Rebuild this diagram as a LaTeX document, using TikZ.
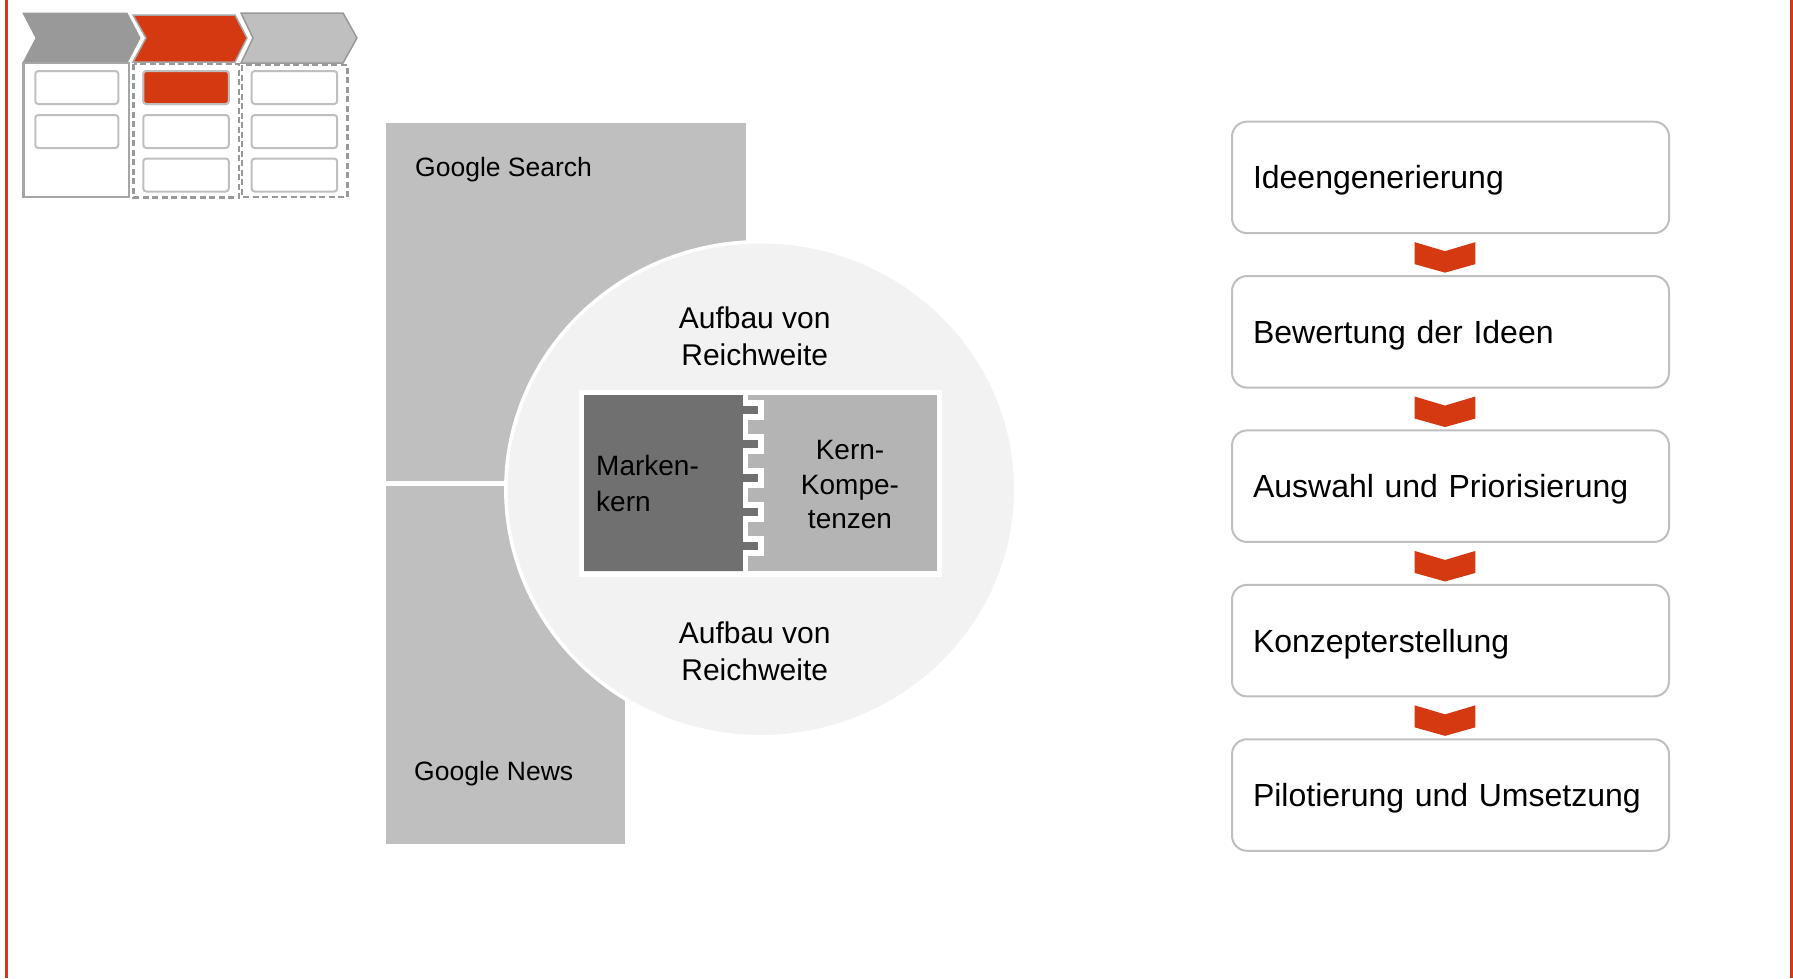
\documentclass[tikz,border=0pt]{standalone}
\usepackage{fontspec}
\setmainfont{Liberation Sans}
\usetikzlibrary{shapes.geometric,calc}
\definecolor{accent}{RGB}{213,57,17}
\definecolor{panelgray}{HTML}{BFBFBF}
\definecolor{icongray}{HTML}{999999}
\definecolor{iconline}{HTML}{A6A6A6}
\definecolor{circfill}{HTML}{F2F2F2}
\definecolor{darkpiece}{HTML}{707070}
\definecolor{lightpiece}{HTML}{B4B4B4}
\begin{document}
\begin{tikzpicture}
	[x=1pt,y=-1pt,
	gbox/.style={fill=panelgray,inner sep=0pt,anchor=north west},
	glabel/.style={anchor=base west,inner sep=0pt,font=\fontsize{26.5}{32}\selectfont},
	ringtext/.style={anchor=north,inner sep=0pt,align=center,font=\fontsize{30}{37}\selectfont},
	slot/.style={draw=panelgray,line width=2pt,rounded corners=3pt,fill=white},
	dashbox/.style={draw=icongray,line width=2.5pt,dash pattern=on 6pt off 3.5pt},
	procbox/.style={draw=panelgray,fill=white,line width=2pt,rounded corners=15pt,
		minimum width=437pt,minimum height=111.5pt,inner xsep=21pt,inner ysep=0pt,
		text width=395pt,align=left,text height=23pt,text depth=0pt,
		font=\fontsize{32}{38}\selectfont}]
	\useasboundingbox (0,0) rectangle (1793,978);
	% side rules
	\fill[accent] (5,0) rectangle (7.7,978);
	\fill[accent] (1789.5,0) rectangle (1792.5,978);
	% phase icon
	\filldraw[fill=icongray,draw=icongray,line width=1pt]
		(23,13) -- (127,13) -- (140,38) -- (127,63) -- (23,63) -- (36,38) -- cycle;
	\filldraw[fill=accent,draw=iconline,line width=1.5pt]
		(133,15) -- (235,15) -- (247,38) -- (235,62) -- (133,62) -- (146,38) -- cycle;
	\filldraw[fill=panelgray,draw=icongray,line width=1.5pt]
		(241,13) -- (343,13) -- (357,38) -- (343,63) -- (241,63) -- (253,38) -- cycle;
	\draw[iconline,line width=2.5pt] (23.5,63) rectangle (129,197);
	\draw[dashbox] (133.5,64) rectangle (239,197.5);
	\draw[dashbox] (242,65) rectangle (347.5,197);
	\foreach \ya in {71,115}
		\draw[slot] (35.3,\ya) rectangle ++(83,33);
	\foreach \xa in {143.3,251.7}
		\foreach \ya in {71,115,158.5}
			\draw[slot] (\xa,\ya) rectangle ++(85.5,33);
	\filldraw[slot,fill=accent] (143.3,71) rectangle ++(85.5,33);
	% channels
	\node[gbox,minimum width=359.7pt,minimum height=358pt] (search) at (386,122.7) {};
	\node[gbox,minimum width=238.4pt,minimum height=358.3pt] (news) at (386,485.7) {};
	\node[glabel] (searchlbl) at (415,176) {Google Search};
	\node[glabel] (newslbl) at (414,780) {Google News};
	% core circle
	\node[ellipse,draw=white,line width=3.5pt,fill=circfill,inner sep=0pt,
		minimum width=510pt,minimum height=495pt] (core) at (760.8,489.2) {};
	\node[ringtext] (reachtop) at (754.7,306.6) {Aufbau von\\Reichweite};
	\node[ringtext] (reachbot) at (754.7,621.5) {Aufbau von\\Reichweite};
	% puzzle
	\node[fill=white,inner sep=0pt,anchor=north west,minimum width=363.4pt,minimum height=187.4pt]
		(puzzle) at (578.3,389.3) {};
	\fill[lightpiece] (584,395) rectangle (936.7,571);
	\fill[darkpiece] (584,395) -- (745.5,395)
		\foreach \y in {403,437,471,505,539} { -- (745.5,\y) -- (761,\y) -- (761,\y+14) -- (745.5,\y+14) }
		-- (745.5,571) -- (584,571) -- cycle;
	\draw[white,line width=5.5pt] (745.5,392)
		\foreach \y in {403,437,471,505,539} { -- (745.5,\y) -- (761,\y) -- (761,\y+14) -- (745.5,\y+14) }
		-- (745.5,574);
	\node[anchor=north west,inner sep=0pt,align=left,font=\fontsize{28}{36}\selectfont]
		(brand) at (596,455) {Marken-\\kern};
	\node[anchor=north,inner sep=0pt,align=center,font=\fontsize{28}{34.7}\selectfont]
		(skills) at (850,440) {Kern-\\Kompe-\\tenzen};
	% process
	\node[procbox] (idea) at (1450.5,177.4) {Ideengenerierung};
	\node[procbox] (rating) at (1450.5,331.8) {Bewertung der Ideen};
	\node[procbox] (choice) at (1450.5,486.2) {Auswahl und Priorisierung};
	\node[procbox] (concept) at (1450.5,640.6) {Konzepterstellung};
	\node[procbox] (pilot) at (1450.5,795) {Pilotierung und Umsetzung};
	\foreach \a in {idea,rating,choice,concept}
		\fill[accent] ($(\a.south)+(-35.8,8)$) -- ($(\a.south)+(-5.5,17)$) -- ($(\a.south)+(24.8,8)$)
			-- ($(\a.south)+(24.8,30)$) -- ($(\a.south)+(-5.5,38.5)$) -- ($(\a.south)+(-35.8,30)$) -- cycle;
\end{tikzpicture}
\end{document}
